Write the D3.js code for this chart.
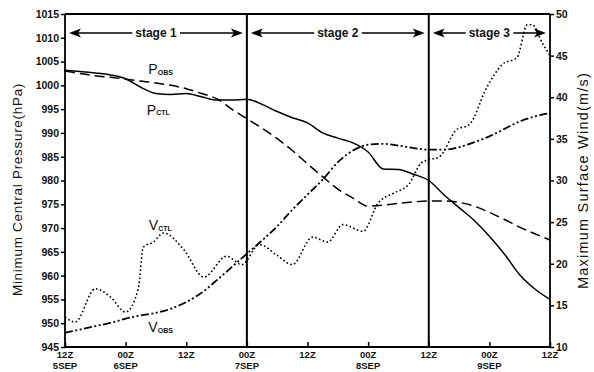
<!DOCTYPE html>
<html><head><meta charset="utf-8">
<script src="https://cdn.jsdelivr.net/npm/d3@7/dist/d3.min.js"></script>
<style>body{margin:0;background:#fff}svg{display:block}</style>
</head><body>
<svg id="c" width="594" height="372"></svg>
<script>
// ---- data ----
const hours = [0,3,6,9,12,15,18,21,24,27,30,33,36,39,42,45,48,51,54,57,60,63,66,69,72,75,78,81,84,87,90,93,96];
const pCtl = [1003.2,1002.9,1002.6,1002.2,1001.4,999.6,998.3,998.1,998.3,997.6,996.9,996.9,997.1,996.0,994.5,993.2,992.1,990.0,988.9,987.9,986.0,982.4,982.3,981.3,980.0,977.0,974.3,971.6,968.3,964.5,960.2,957.2,955.0];
const pObs = [1003.0,1002.5,1002.0,1001.7,1001.3,1000.9,1000.5,1000.0,999.3,998.3,997.2,995.0,993.0,991.0,988.8,986.3,983.5,980.8,978.2,976.3,974.6,974.8,975.2,975.5,975.7,975.7,975.4,974.6,973.3,971.8,970.2,968.8,967.5];
const vObs = [11.7,12.1,12.5,12.9,13.4,13.8,14.1,14.6,15.4,16.5,18.0,19.6,21.2,22.8,24.5,26.5,28.3,30.1,32.2,33.6,34.3,34.4,34.2,33.9,33.7,33.7,34.0,34.6,35.3,36.2,37.1,37.7,38.1];
const vCtlHours = [0,2,6,9,12,14.5,15.5,17.5,19.5,23.5,27.5,32,35,38.5,42,45,49,52,55,59,62,65.5,68,70.5,72,74,77.5,80,83.5,86.5,89.5,91.5,92.5,94.5,96];
const vCtl = [13.6,13.0,17.0,16.0,14.2,17.0,22.0,22.6,23.7,21.7,18.4,20.9,19.9,22.3,21.0,19.9,23.2,22.6,24.7,23.9,27.3,28.6,29.5,32.1,32.5,32.8,36.1,36.7,41.2,43.9,44.8,48.7,48.7,46.5,45.0];
const xTickHours = [0,12,24,36,48,60,72,84,96];
const xTickTimes = ["12Z","00Z","12Z","00Z","12Z","00Z","12Z","00Z","12Z"];
const xTickDates = ["5SEP","6SEP","","7SEP","","8SEP","","9SEP",""];
const pTicks = [945,950,955,960,965,970,975,980,985,990,995,1000,1005,1010,1015];
const wTicks = [10,15,20,25,30,35,40,45,50];
const stageBounds = [0,36,72,96];
const stageNames = ["stage 1","stage 2","stage 3"];

// ---- layout ----
const L = 65, R = 550, T = 14, B = 347;
const svg = d3.select("#c");
const x = d3.scaleLinear().domain([0,96]).range([L,R]);
const yP = d3.scaleLinear().domain([945,1015]).range([B,T]);
const yW = d3.scaleLinear().domain([10,50]).range([B,T]);
const FONT = "'Liberation Sans', Arial, sans-serif";

// axes
const gL = svg.append("g").attr("transform",`translate(${L},0)`)
  .call(d3.axisLeft(yP).tickValues(pTicks).tickSize(4).tickPadding(2).tickFormat(d3.format("d")));
const gR = svg.append("g").attr("transform",`translate(${R},0)`)
  .call(d3.axisRight(yW).tickValues(wTicks).tickSize(4).tickPadding(2).tickFormat(d3.format("d")));
const gB = svg.append("g").attr("transform",`translate(0,${B})`)
  .call(d3.axisBottom(x).tickValues(xTickHours).tickSize(-5).tickFormat(""));
[gL,gR,gB].forEach(g=>{
  g.select(".domain").attr("stroke","#000").attr("stroke-width",1.8);
  g.selectAll(".tick line").attr("stroke","#000").attr("stroke-width",1.5);
  g.selectAll("text").attr("font-family",FONT).attr("font-weight","bold").attr("font-size",10.5).attr("fill","#111");
});
gL.select(".domain").attr("d",`M0,${T}V${B}`);
gR.select(".domain").attr("d",`M0,${T}V${B}`);
gB.select(".domain").attr("d",`M${L},0H${R}`);
// top border
svg.append("line").attr("x1",L).attr("x2",R).attr("y1",T).attr("y2",T).attr("stroke","#000").attr("stroke-width",1.8);

// x tick labels (two lines)
const xl = svg.append("g").attr("font-family",FONT).attr("font-weight","bold").attr("font-size",9.5).attr("fill","#111").attr("text-anchor","middle");
xTickHours.forEach((h,i)=>{
  xl.append("text").attr("x",x(h)).attr("y",B+11).text(xTickTimes[i]);
  if (xTickDates[i]) xl.append("text").attr("x",x(h)).attr("y",B+22).text(xTickDates[i]);
});

// stage lines
stageBounds.slice(1,-1).forEach(h=>{
  svg.append("line").attr("x1",x(h)).attr("x2",x(h)).attr("y1",T).attr("y2",B).attr("stroke","#000").attr("stroke-width",2);
});

// curves
const lineP = (arr)=>d3.line().x((d,i)=>x(hours[i])).y(d=>yP(d)).curve(d3.curveMonotoneX)(arr);
svg.append("path").attr("d",lineP(pCtl)).attr("fill","none").attr("stroke","#000").attr("stroke-width",1.5);
svg.append("path").attr("d",lineP(pObs)).attr("fill","none").attr("stroke","#000").attr("stroke-width",1.5).attr("stroke-dasharray","10,5");
svg.append("path").attr("d",d3.line().x((d,i)=>x(hours[i])).y(d=>yW(d)).curve(d3.curveMonotoneX)(vObs))
  .attr("fill","none").attr("stroke","#000").attr("stroke-width",1.8).attr("stroke-dasharray","8,2.5,2,2.5,2,2.5");
svg.append("path").attr("d",d3.line().x((d,i)=>x(vCtlHours[i])).y(d=>yW(d)).curve(d3.curveMonotoneX)(vCtl))
  .attr("fill","none").attr("stroke","#000").attr("stroke-width",1.6).attr("stroke-dasharray","1.6,2.4");

// stage arrows
const ay = 33;
stageNames.forEach((name,i)=>{
  const x0 = x(stageBounds[i])+4, x1 = x(stageBounds[i+1])-4;
  const cx = (x(stageBounds[i])+x(stageBounds[i+1]))/2;
  const g = svg.append("g");
  g.append("line").attr("x1",x0+8).attr("x2",x1-8).attr("y1",ay).attr("y2",ay).attr("stroke","#000").attr("stroke-width",1.5);
  g.append("path").attr("d",`M${x0},${ay}L${x0+12},${ay-4.5}L${x0+9},${ay}L${x0+12},${ay+4.5}Z`).attr("fill","#000");
  g.append("path").attr("d",`M${x1},${ay}L${x1-12},${ay-4.5}L${x1-9},${ay}L${x1-12},${ay+4.5}Z`).attr("fill","#000");
  const bg = g.append("rect").attr("fill","#fff");
  const t = g.append("text").attr("x",cx).attr("y",ay+4).attr("text-anchor","middle")
    .attr("font-family",FONT).attr("font-weight","bold").attr("font-size",12).attr("fill","#111").text(name);
  const bb = t.node().getBBox();
  bg.attr("x",bb.x-3).attr("y",ay-2).attr("width",bb.width+6).attr("height",4);
});

// curve labels
function label(xp, yp, main, sub){
  const t = svg.append("text").attr("x",xp).attr("y",yp).attr("font-family",FONT).attr("font-size",14).attr("fill","#111");
  t.append("tspan").text(main);
  t.append("tspan").attr("font-size",7).attr("font-weight","bold").attr("dy",0.5).text(sub);
}
label(x(16.5), yP(1002.3), "P", "OBS");
label(x(16.2), yP(993.8), "P", "CTL");
label(x(16.6), yW(24.0), "V", "CTL");
label(x(16.5), yW(11.8), "V", "OBS");

// axis titles
svg.append("text").attr("transform",`translate(22,${(T+B)/2+9}) rotate(-90)`).attr("text-anchor","middle")
  .attr("font-family",FONT).attr("font-size",13.5).attr("letter-spacing",0.7).attr("fill","#111").text("Minimum Central Pressure(hPa)");
svg.append("text").attr("transform",`translate(588,${(T+B)/2}) rotate(-90)`).attr("text-anchor","middle")
  .attr("font-family",FONT).attr("font-size",14.5).attr("letter-spacing",1.2).attr("fill","#111").text("Maximum Surface Wind(m/s)");
</script>
</body></html>
